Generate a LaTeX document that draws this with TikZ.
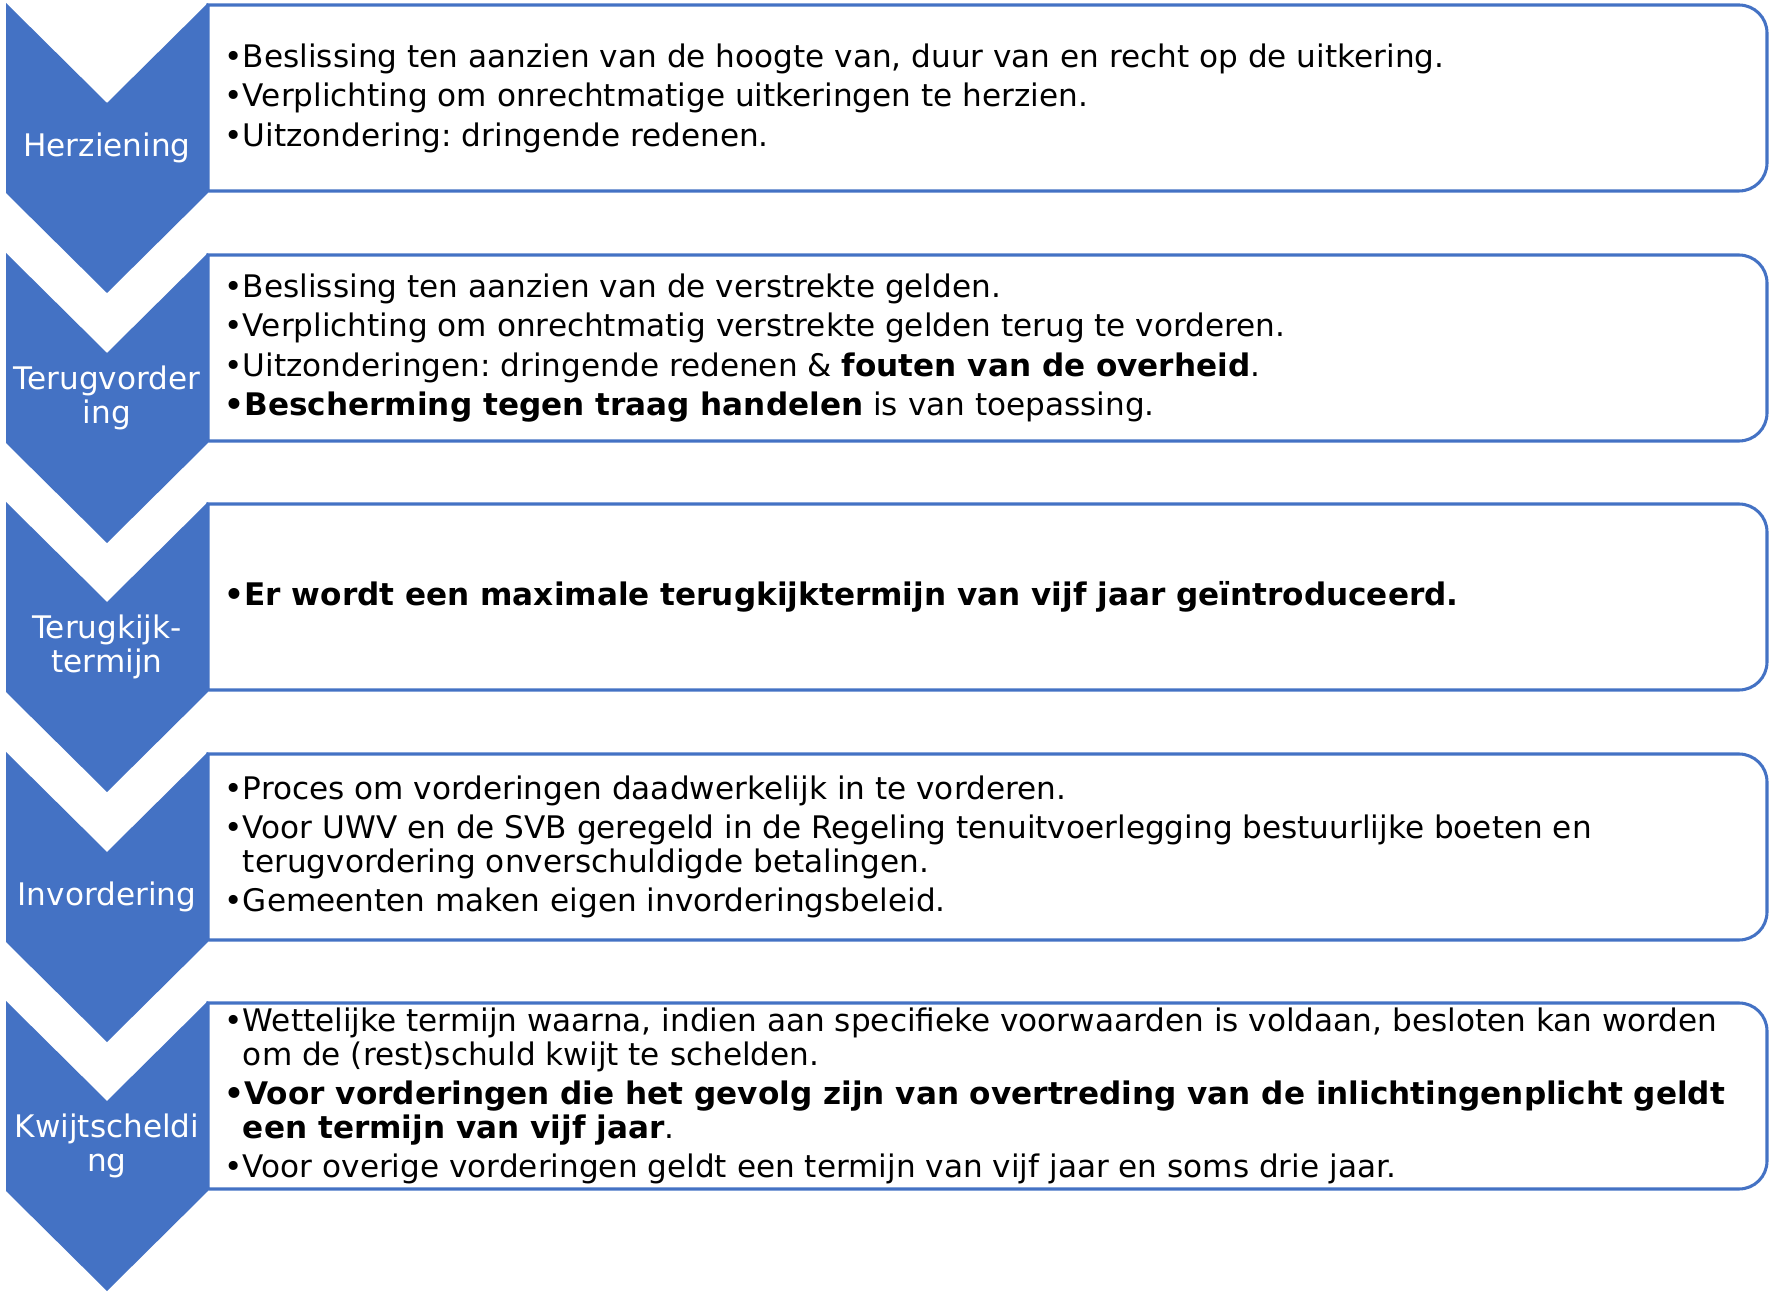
\documentclass[tikz,border=0pt]{standalone}
\usepackage{fontspec}
\setmainfont{DejaVu Sans}
\usepackage{tikz}

\definecolor{chevronblauw}{RGB}{68,114,196}
\frenchspacing

\begin{document}
\begin{tikzpicture}[x=0.36pt,y=0.36pt,yscale=-1,xscale=1,
	chevron/.style={fill=chevronblauw,draw=none},
	kader/.style={draw=chevronblauw,line width=1.1pt,fill=white},
	stap/.style={text=white,align=center,inner sep=0.75pt,font=\fontsize{11.2}{12.2}\selectfont},
	punten/.style={anchor=west,align=left,inner sep=0.75pt,font=\fontsize{11.2}{12.2}\selectfont}]
			\useasboundingbox (0,0) rectangle (1772,1292);
			
			%Shape: Chevron [id:herziening]
			\draw  [chevron] (6,3) -- (107,103) -- (208,3) -- (208,193) -- (107,293) -- (6,193) -- cycle ;
			%Shape: Chevron [id:terugvordering]
			\draw  [chevron] (6,253) -- (107,353) -- (208,253) -- (208,443) -- (107,543) -- (6,443) -- cycle ;
			%Shape: Chevron [id:terugkijktermijn]
			\draw  [chevron] (6,502) -- (107,602) -- (208,502) -- (208,692) -- (107,792) -- (6,692) -- cycle ;
			%Shape: Chevron [id:invordering]
			\draw  [chevron] (6,752) -- (107,852) -- (208,752) -- (208,942) -- (107,1042) -- (6,942) -- cycle ;
			%Shape: Chevron [id:kwijtschelding]
			\draw  [chevron] (6,1001) -- (107,1101) -- (208,1001) -- (208,1191) -- (107,1291) -- (6,1191) -- cycle ;
			
			%Shape: Right Rounded Rectangle [id:kader1]
			\draw  [kader] (208,5) -- (1739,5) arc[start angle=-90,end angle=0,radius=28] -- (1767,163) arc[start angle=0,end angle=90,radius=28] -- (208,191) -- cycle ;
			%Shape: Right Rounded Rectangle [id:kader2]
			\draw  [kader] (208,255) -- (1739,255) arc[start angle=-90,end angle=0,radius=28] -- (1767,413) arc[start angle=0,end angle=90,radius=28] -- (208,441) -- cycle ;
			%Shape: Right Rounded Rectangle [id:kader3]
			\draw  [kader] (208,504) -- (1739,504) arc[start angle=-90,end angle=0,radius=28] -- (1767,662) arc[start angle=0,end angle=90,radius=28] -- (208,690) -- cycle ;
			%Shape: Right Rounded Rectangle [id:kader4]
			\draw  [kader] (208,754) -- (1739,754) arc[start angle=-90,end angle=0,radius=28] -- (1767,912) arc[start angle=0,end angle=90,radius=28] -- (208,940) -- cycle ;
			%Shape: Right Rounded Rectangle [id:kader5]
			\draw  [kader] (208,1003) -- (1739,1003) arc[start angle=-90,end angle=0,radius=28] -- (1767,1161) arc[start angle=0,end angle=90,radius=28] -- (208,1189) -- cycle ;
			
			% Text Node
			\node [stap] (herziening) at (107,148) {Herziening};
			% Text Node
			\node [stap] (terugvordering) at (107,398) {Terugvorder\\ing};
			% Text Node
			\node [stap] (terugkijktermijn) at (107,647) {Terugkijk-\\termijn};
			% Text Node
			\node [stap] (invordering) at (107,897) {Invordering};
			% Text Node
			\node [stap] (kwijtschelding) at (107,1146) {Kwijtscheldi\\ng};
			
			% Text Node
			\node [punten] (tekst1) at (222,98) {\textbullet Beslissing ten aanzien van de hoogte van, duur van en recht op de uitkering.\\[2pt]
				\textbullet Verplichting om onrechtmatige uitkeringen te herzien.\\[2pt]
				\textbullet Uitzondering: dringende redenen.};
			% Text Node
			\node [punten] (tekst2) at (222,348) {\textbullet Beslissing ten aanzien van de verstrekte gelden.\\[2pt]
				\textbullet Verplichting om onrechtmatig verstrekte gelden terug te vorderen.\\[2pt]
				\textbullet Uitzonderingen: dringende redenen \& \textbf{fouten van de overheid}.\\[2pt]
				\textbf{\textbullet Bescherming tegen traag handelen} is van toepassing.};
			% Text Node
			\node [punten] (tekst3) at (222,597) {\textbf{\textbullet Er wordt een maximale terugkijktermijn van vijf jaar geïntroduceerd.}};
			% Text Node
			\node [punten] (tekst4) at (222,847) {\textbullet Proces om vorderingen daadwerkelijk in te vorderen.\\[2pt]
				\textbullet Voor UWV en de SVB geregeld in de Regeling tenuitvoerlegging bestuurlijke boeten en\\
				\hphantom{\textbullet}terugvordering onverschuldigde betalingen.\\[2pt]
				\textbullet Gemeenten maken eigen invorderingsbeleid.};
			% Text Node
			\node [punten] (tekst5) at (222,1096) {\textbullet Wettelijke termijn waarna, indien aan specifieke voorwaarden is voldaan, besloten kan worden\\
				\hphantom{\textbullet}om de (rest)schuld kwijt te schelden.\\[2pt]
				\textbf{\textbullet Voor vorderingen die het gevolg zijn van overtreding van de inlichtingenplicht geldt}\\
				\hphantom{\textbullet}\textbf{een termijn van vijf jaar}.\\[2pt]
				\textbullet Voor overige vorderingen geldt een termijn van vijf jaar en soms drie jaar.};
			
\end{tikzpicture}
\end{document}
